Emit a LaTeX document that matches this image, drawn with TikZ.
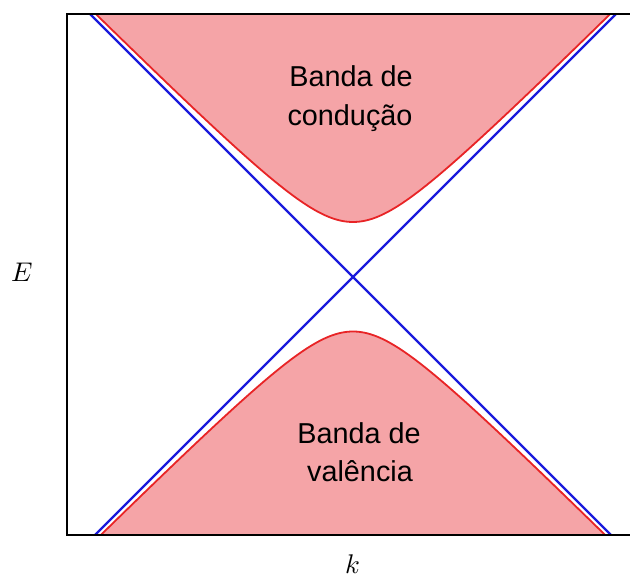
\documentclass[tikz,border=0pt]{standalone}
\usepackage{fontspec}
\setmainfont{Liberation Sans}
\usepackage{unicode-math}
\definecolor{bandpink}{RGB}{245,164,167}
\definecolor{bandred}{RGB}{232,36,38}
\definecolor{diracblue}{RGB}{26,26,220}
\tikzset{
  bandfill/.style={fill=bandpink, draw=none},
  bandedge/.style={draw=bandred, line width=1.8pt},
  diracline/.style={draw=diracblue, line width=2.4pt},
  framebox/.style={draw=black, line width=2pt},
  bandlabel/.style={font=\fontsize{28.8}{38}\selectfont, anchor=base, inner sep=0pt},
  axislabel/.style={font=\fontsize{27}{30}\selectfont, inner sep=0pt}
}
\begin{document}
\begin{tikzpicture}[x=1pt,y=-1pt]
\useasboundingbox (0,0) rectangle (630,578);
\coordinate (c) at (353,277);
\coordinate (tl) at (90,14);
\coordinate (tr) at (616,14);
\coordinate (bl) at (95,535);
\coordinate (br) at (611,535);
\begin{scope}
\clip (67,14) rectangle (632,535);
% conduction band
\path[bandfill] plot[domain=-270:270, samples=241, smooth] (353+\x, {277-100*sqrt((\x/100)^2+0.3025)}) -- (623,0) -- (83,0) -- cycle;
\path[bandedge] plot[domain=-270:270, samples=241, smooth] (353+\x, {277-100*sqrt((\x/100)^2+0.3025)});
% valence band
\path[bandfill] plot[domain=-270:270, samples=241, smooth] (353+\x, {277+100*sqrt((\x/100)^2+0.297)}) -- (623,560) -- (83,560) -- cycle;
\path[bandedge] plot[domain=-270:270, samples=241, smooth] (353+\x, {277+100*sqrt((\x/100)^2+0.297)});
% Dirac cone
\draw[diracline] (tl) -- (c) -- (br);
\draw[diracline] (tr) -- (c) -- (bl);
\end{scope}
\draw[framebox] (632,14) -- (67,14) -- (67,535) -- (632,535);
\node[bandlabel] (cb1) at (351,87) {Banda de};
\node[bandlabel] (cb2) at (350,125) {condução};
\node[bandlabel] (vb1) at (359,443) {Banda de};
\node[bandlabel] (vb2) at (360,481) {valência};
\node[axislabel] (elab) at (22,272) {$E$};
\node[axislabel] (klab) at (353,564) {$k$};
\end{tikzpicture}
\end{document}
